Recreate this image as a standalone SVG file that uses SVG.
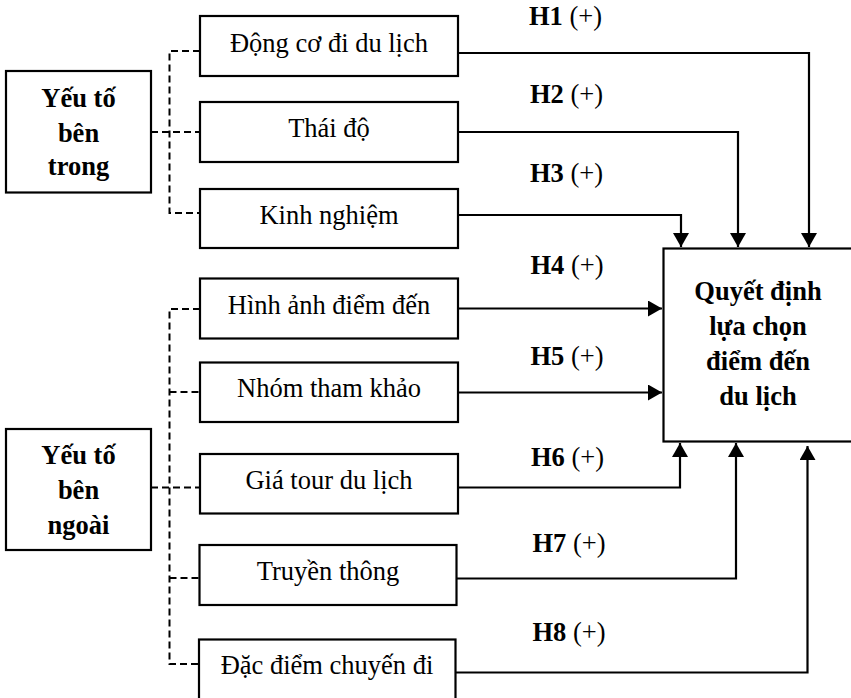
<svg xmlns="http://www.w3.org/2000/svg" width="851" height="698" viewBox="0 0 851 698">
<defs>
<style>
.box{fill:#fff;stroke:#000;stroke-width:2.2}
.t{font-family:"Liberation Serif","Times New Roman",serif;font-size:26.5px;fill:#000;text-anchor:middle}
.b{font-weight:bold}
.h{font-family:"Liberation Serif","Times New Roman",serif;font-size:26.5px;fill:#000}
.c{fill:none;stroke:#000;stroke-width:2.2}
.d{fill:none;stroke:#000;stroke-width:2;stroke-dasharray:7,4}
</style>
<marker id="arr" viewBox="0 0 14 16" refX="14" refY="8" markerWidth="14" markerHeight="16" markerUnits="userSpaceOnUse" orient="auto">
<path d="M0,0 L14,8 L0,16 z" fill="#000"/>
</marker>
</defs>
<rect width="851" height="698" fill="#fff"/>
<g id="connectors">
<path class="d" d="M200,51 H169.5 V213 H200"/>
<path class="d" d="M151,132 H200"/>
<path class="d" d="M200,309 H169.5 V664 H200"/>
<path class="d" d="M169.5,392 H200"/>
<path class="d" d="M151,487.5 H200"/>
<path class="d" d="M169.5,578 H200"/>
<path class="c" d="M458,53 H809 V247" marker-end="url(#arr)"/>
<path class="c" d="M458,132 H738 V247" marker-end="url(#arr)"/>
<path class="c" d="M458,215 H681 V247" marker-end="url(#arr)"/>
<path class="c" d="M458,308.5 H662" marker-end="url(#arr)"/>
<path class="c" d="M458,392.5 H662" marker-end="url(#arr)"/>
<path class="c" d="M458,487.5 H680 V443" marker-end="url(#arr)"/>
<path class="c" d="M457,578.5 H736 V443" marker-end="url(#arr)"/>
<path class="c" d="M456,672.5 H807.5 V446" marker-end="url(#arr)"/>
<text class="h" x="529" y="25"><tspan font-weight="bold">H1</tspan> (+)</text>
<text class="h" x="530" y="103"><tspan font-weight="bold">H2</tspan> (+)</text>
<text class="h" x="530" y="182"><tspan font-weight="bold">H3</tspan> (+)</text>
<text class="h" x="530.5" y="274"><tspan font-weight="bold">H4</tspan> (+)</text>
<text class="h" x="530.5" y="365"><tspan font-weight="bold">H5</tspan> (+)</text>
<text class="h" x="531" y="466"><tspan font-weight="bold">H6</tspan> (+)</text>
<text class="h" x="532.5" y="552"><tspan font-weight="bold">H7</tspan> (+)</text>
<text class="h" x="532.5" y="641"><tspan font-weight="bold">H8</tspan> (+)</text>
</g>
<g id="noi-tai">
<rect class="box" x="6" y="71" width="145" height="121.5"/>
<text class="t b" x="78.5" y="107">Yếu tố</text>
<text class="t b" x="78.5" y="141.5">bên</text>
<text class="t b" x="78.5" y="175">trong</text>
</g>
<g id="ngoai">
<rect class="box" x="6" y="429" width="145" height="121"/>
<text class="t b" x="78.5" y="464">Yếu tố</text>
<text class="t b" x="78.5" y="499">bên</text>
<text class="t b" x="78.5" y="533.5">ngoài</text>
</g>
<g id="dong-co">
<rect class="box" x="200" y="16" width="258" height="60"/>
<text class="t" x="329" y="52">Động cơ đi du lịch</text>
</g>
<g id="thai-do">
<rect class="box" x="200" y="102" width="258" height="60"/>
<text class="t" x="329" y="137">Thái độ</text>
</g>
<g id="kinh-nghiem">
<rect class="box" x="200" y="189" width="258" height="59"/>
<text class="t" x="329" y="223.5">Kinh nghiệm</text>
</g>
<g id="hinh-anh">
<rect class="box" x="200" y="278.5" width="258" height="60"/>
<text class="t" x="329" y="313.5">Hình ảnh điểm đến</text>
</g>
<g id="nhom">
<rect class="box" x="200" y="362.5" width="258" height="59.5"/>
<text class="t" x="329" y="397">Nhóm tham khảo</text>
</g>
<g id="gia-tour">
<rect class="box" x="200" y="454" width="258" height="59.5"/>
<text class="t" x="329" y="488.5">Giá tour du lịch</text>
</g>
<g id="truyen-thong">
<rect class="box" x="199.5" y="545" width="257" height="60"/>
<text class="t" x="328" y="580">Truyền thông</text>
</g>
<g id="dac-diem">
<rect class="box" x="199" y="639.5" width="256.5" height="70"/>
<text class="t" x="327" y="673.5">Đặc điểm chuyến đi</text>
</g>
<g id="quyet-dinh">
<rect class="box" x="663.5" y="248.5" width="200" height="193"/>
<text class="t b" x="758" y="300">Quyết định</text>
<text class="t b" x="758" y="335">lựa chọn</text>
<text class="t b" x="758" y="370">điểm đến</text>
<text class="t b" x="758" y="405">du lịch</text>
</g>
</svg>
